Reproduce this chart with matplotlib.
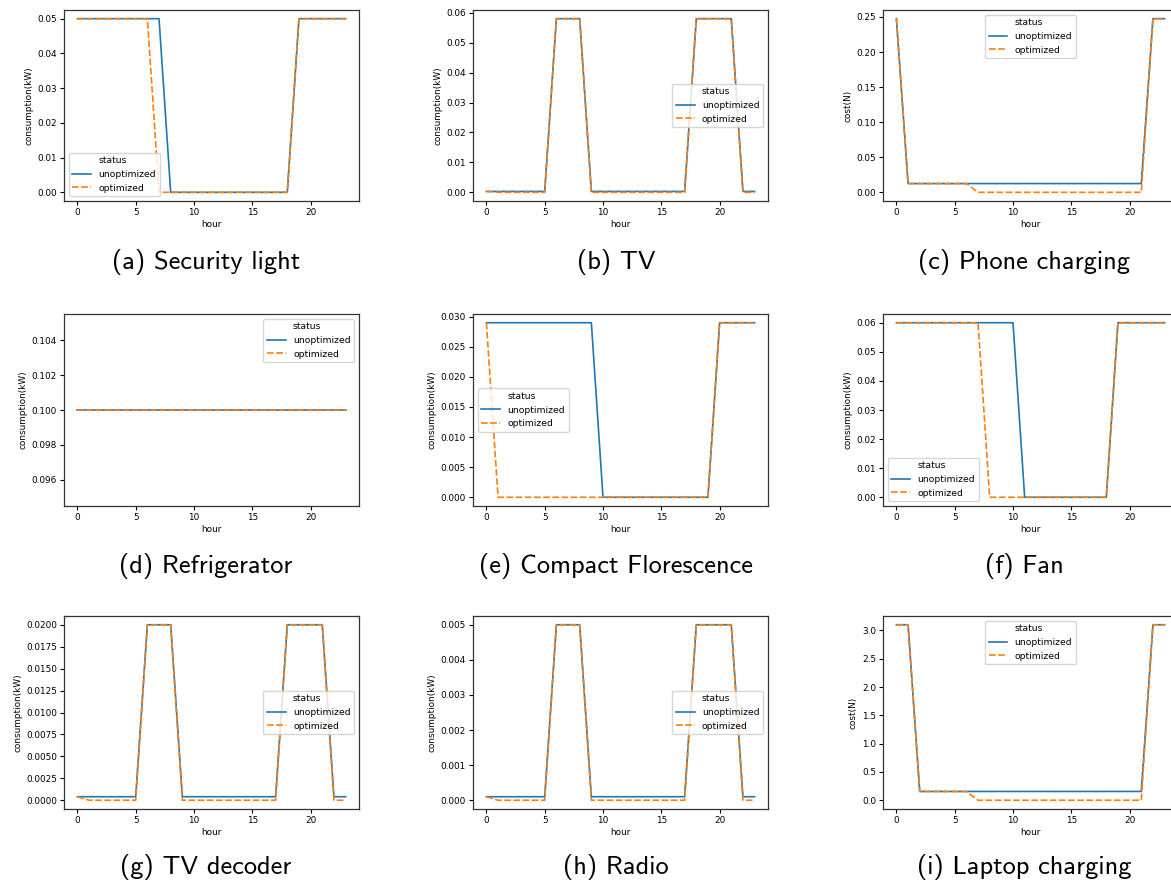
import matplotlib
matplotlib.use("Agg")
import matplotlib.pyplot as plt
from matplotlib.lines import Line2D

hours = list(range(24))

# Security light (kW)
light_unopt = [0.05] * 8 + [0.0] * 11 + [0.05] * 5
light_opt = [0.05] * 7 + [0.0] * 12 + [0.05] * 5

# TV (kW)
tv_unopt = [0.0003] * 6 + [0.058] * 3 + [0.0003] * 9 + [0.058] * 4 + [0.0003] * 2
tv_opt = [0.0003] + [0.0] * 5 + [0.058] * 3 + [0.0] * 9 + [0.058] * 4 + [0.0] * 2

# Phone charging cost (N)
phone_unopt = [0.2475] + [0.0125] * 21 + [0.2475] * 2
phone_opt = [0.2475] + [0.0125] * 6 + [0.0] * 15 + [0.2475] * 2

# Refrigerator (kW)
fridge_unopt = [0.1] * 24
fridge_opt = [0.1] * 24

# Compact florescence (kW)
cfl_unopt = [0.029] * 10 + [0.0] * 10 + [0.029] * 4
cfl_opt = [0.029] + [0.0] * 19 + [0.029] * 4

# Fan (kW)
fan_unopt = [0.06] * 11 + [0.0] * 8 + [0.06] * 5
fan_opt = [0.06] * 8 + [0.0] * 11 + [0.06] * 5

# TV decoder (kW)
dec_unopt = [0.0004] * 6 + [0.02] * 3 + [0.0004] * 9 + [0.02] * 4 + [0.0004] * 2
dec_opt = [0.0004] + [0.0] * 5 + [0.02] * 3 + [0.0] * 9 + [0.02] * 4 + [0.0] * 2

# Radio (kW)
radio_unopt = [0.0001] * 6 + [0.005] * 3 + [0.0001] * 9 + [0.005] * 4 + [0.0001] * 2
radio_opt = [0.0001] + [0.0] * 5 + [0.005] * 3 + [0.0] * 9 + [0.005] * 4 + [0.0] * 2

# Laptop charging cost (N)
laptop_unopt = [3.1] * 2 + [0.155] * 20 + [3.1] * 2
laptop_opt = [3.1] * 2 + [0.155] * 5 + [0.0] * 15 + [3.1] * 2

panels = [
    ("(a) Security light", "consumption(kW)", light_unopt, light_opt, "lower left"),
    ("(b) TV", "consumption(kW)", tv_unopt, tv_opt, "center right"),
    ("(c) Phone charging", "cost(N)", phone_unopt, phone_opt, "upper center"),
    ("(d) Refrigerator", "consumption(kW)", fridge_unopt, fridge_opt, "upper right"),
    ("(e) Compact Florescence", "consumption(kW)", cfl_unopt, cfl_opt, "center left"),
    ("(f) Fan", "consumption(kW)", fan_unopt, fan_opt, "lower left"),
    ("(g) TV decoder", "consumption(kW)", dec_unopt, dec_opt, "center right"),
    ("(h) Radio", "consumption(kW)", radio_unopt, radio_opt, "center right"),
    ("(i) Laptop charging", "cost(N)", laptop_unopt, laptop_opt, "upper center"),
]

W, H = 1171, 886
fig = plt.figure(figsize=(W / 100, H / 100), dpi=100)

col_left = [64, 473, 883]
ax_w = 295
row_top = [10, 314, 616]
row_bot = [201, 506, 809]
cap_x = [206, 616, 1024]
cap_y = [262, 566, 867]
fs = 6.4

for i, (caption, ylab, unopt, opt, loc) in enumerate(panels):
    r, c = divmod(i, 3)
    ax = fig.add_axes([col_left[c] / W, 1 - row_bot[r] / H,
                       ax_w / W, (row_bot[r] - row_top[r]) / H])
    ax.plot(hours, unopt, color="#1f77b4", lw=1.2)
    ax.plot(hours, opt, color="#ff7f0e", lw=1.2, dashes=(4, 1.5))
    ax.set_xlabel("hour", fontsize=fs, labelpad=2)
    ax.set_ylabel(ylab, fontsize=fs, labelpad=3)
    ax.tick_params(labelsize=fs, length=3, pad=2)
    ax.set_xticks([0, 5, 10, 15, 20])
    for s in ax.spines.values():
        s.set_color("#333333")
        s.set_linewidth(0.9)
    handles = [Line2D([], [], color="none"),
               Line2D([], [], color="#1f77b4", lw=1.2),
               Line2D([], [], color="#ff7f0e", lw=1.2, dashes=(4, 1.5))]
    ax.legend(handles, ["status", "unoptimized", "optimized"], loc=loc,
              fontsize=fs + 0.3, handlelength=2.0, labelspacing=0.5, borderpad=0.4)
    fig.text(cap_x[c] / W, 1 - cap_y[r] / H, caption, ha="center", va="center",
             fontsize=19, family="cmss10")

fig.savefig("out.png", dpi=100)
